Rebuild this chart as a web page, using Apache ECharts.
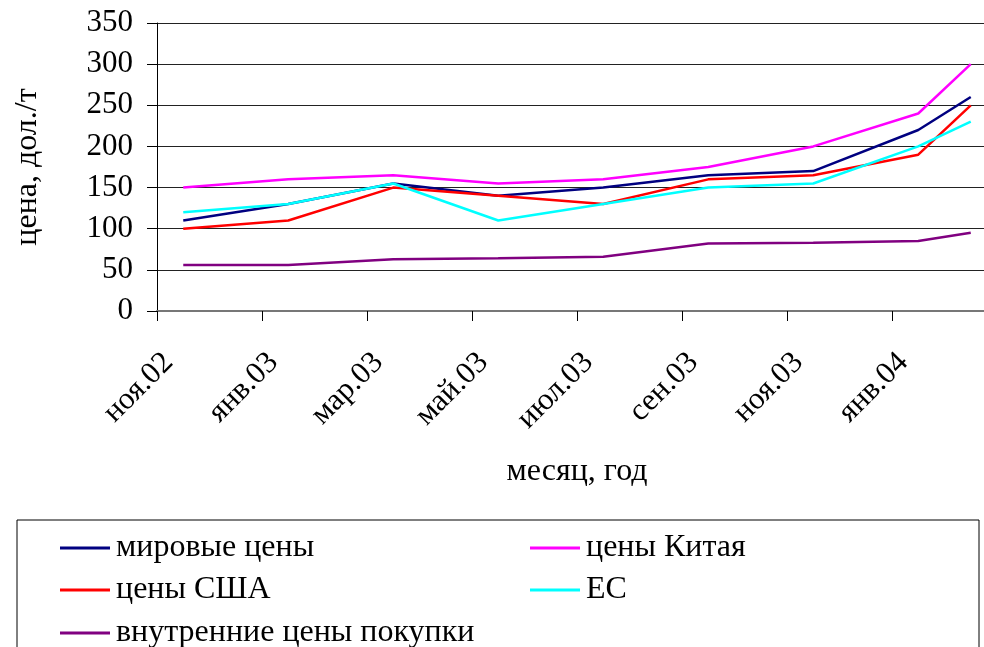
<!DOCTYPE html>
<html>
<head>
<meta charset="utf-8">
<script src="https://cdn.jsdelivr.net/npm/echarts@6/dist/echarts.min.js"></script>
<style>
  html, body { margin: 0; padding: 0; background: #fff; overflow: hidden; }
  /* plot runs past the right edge of the window, like in the original */
  #chart { width: 997px; height: 647px; }
</style>
</head>
<body>
<div id="chart"></div>
<script>
// months ноя.02 .. фев.04, values only at every second month + last one
const months = ["ноя.02", "дек.02", "янв.03", "фев.03", "мар.03", "апр.03", "май.03", "июн.03",
  "июл.03", "авг.03", "сен.03", "окт.03", "ноя.03", "дек.03", "янв.04", "фев.04"];
const worldPrices = [110, null, 130, null, 155, null, 140, null, 150, null, 165, null, 170, null, 220, 260];
const chinaPrices = [150, null, 160, null, 165, null, 155, null, 160, null, 175, null, 200, null, 240, 300];
const usaPrices = [100, null, 110, null, 150, null, 140, null, 130, null, 160, null, 165, null, 190, 250];
const euPrices = [120, null, 130, null, 155, null, 110, null, 130, null, 150, null, 155, null, 200, 230];
const domesticPrices = [56, null, 56, null, 63, null, 64, null, 66, null, 82, null, 83, null, 85, 95];
const yTicks = [0, 50, 100, 150, 200, 250, 300, 350];

const FONT = "Liberation Serif";
const chart = echarts.init(document.getElementById("chart"));

const mkSeries = (name, data, color) => ({
  name: name,
  type: "line",
  data: data,
  connectNulls: true,
  symbol: "none",
  showSymbol: false,
  silent: true,
  lineStyle: { color: color, width: 2.5 },
  itemStyle: { color: color },
});

// one legend per item so the two columns line up like the original
const mkLegend = (name, left, top) => ({
  data: [name],
  left: left,
  top: top,
  padding: 0,
  itemWidth: 50,
  itemHeight: 3,
  icon: "rect",
  selectedMode: false,
  textStyle: { fontFamily: FONT, fontSize: 32, color: "#000", padding: [0, 0, 0, 1] },
});

chart.setOption({
  animation: false,
  backgroundColor: "#fff",
  grid: [
    { left: 157, top: 23, right: 0, bottom: 336 },
    // empty grid used only as the frame round the legend (cut at the bottom)
    {
      show: true,
      left: 17,
      top: 520,
      width: 962,
      height: 150,
      outerBoundsMode: "none",
      borderColor: "#000",
      borderWidth: 1,
      backgroundColor: "transparent",
    },
  ],
  xAxis: [
    {
      type: "category",
      data: months,
      boundaryGap: true,
      name: "месяц, год",
      nameLocation: "middle",
      nameGap: 145,
      nameTextStyle: { fontFamily: FONT, fontSize: 32, color: "#000" },
      axisLine: { lineStyle: { color: "#777", width: 2 } },
      axisTick: { show: true, interval: 1, length: 10, lineStyle: { color: "#000" } },
      axisLabel: {
        interval: 1,
        rotate: 45,
        margin: 32,
        padding: [0, 21, 0, 0],
        fontFamily: FONT,
        fontSize: 31,
        color: "#000",
      },
      splitLine: { show: false },
    },
    { gridIndex: 1, type: "value", show: false },
  ],
  yAxis: [
    {
      type: "value",
      min: yTicks[0],
      max: yTicks[yTicks.length - 1],
      interval: 50,
      name: "цена, дол./т",
      nameLocation: "middle",
      nameRotate: 90,
      nameGap: 113,
      nameTextStyle: { fontFamily: FONT, fontSize: 32, color: "#000" },
      axisLine: { show: true, lineStyle: { color: "#000", width: 1 } },
      axisTick: { show: true, length: 10, lineStyle: { color: "#000" } },
      axisLabel: { margin: 24, fontFamily: FONT, fontSize: 31, color: "#000" },
      splitLine: { show: true, lineStyle: { color: "#222", width: 1 } },
    },
    { gridIndex: 1, type: "value", show: false },
  ],
  legend: [
    mkLegend("мировые цены", 60, 532),
    mkLegend("цены США", 60, 574),
    mkLegend("внутренние цены покупки", 60, 617),
    mkLegend("цены Китая", 530, 532),
    mkLegend("ЕС", 530, 574),
  ],
  series: [
    mkSeries("мировые цены", worldPrices, "#000080"),
    mkSeries("цены Китая", chinaPrices, "#FF00FF"),
    mkSeries("цены США", usaPrices, "#FF0000"),
    mkSeries("ЕС", euPrices, "#00FFFF"),
    mkSeries("внутренние цены покупки", domesticPrices, "#800080"),
  ],
});
</script>
</body>
</html>
